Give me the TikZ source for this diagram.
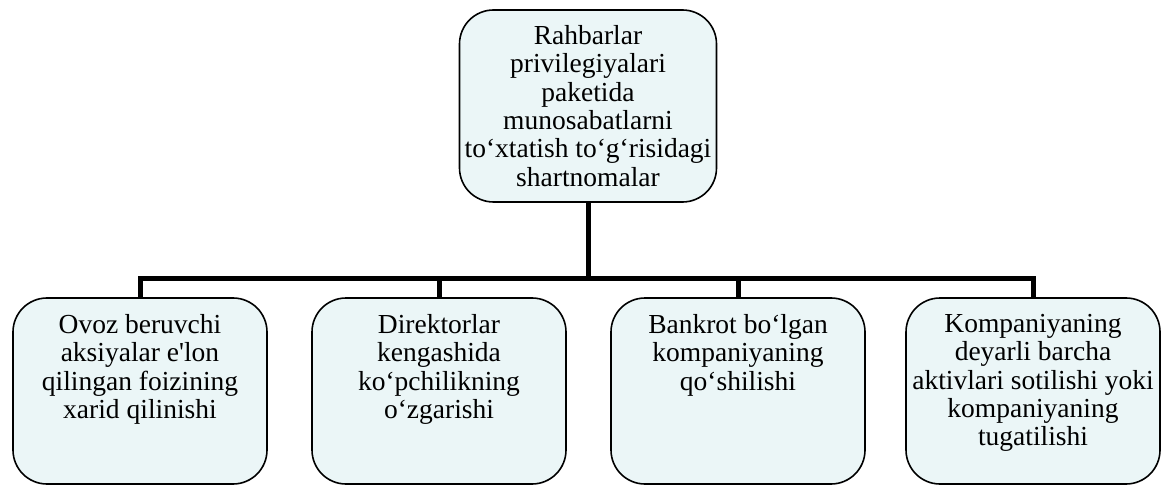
\documentclass[tikz,border=0pt]{standalone}
\usepackage{fontspec}
\setmainfont{Liberation Serif}[Ligatures=TeXOff]
\usetikzlibrary{positioning}
\definecolor{cfill}{HTML}{EBF6F7}
\definecolor{cink}{HTML}{000000}

\begin{document}
\begin{tikzpicture}[
  x=1pt, y=-1pt,
  font=\fontsize{27.5}{28.3}\selectfont,
  box/.style={draw=cink, fill=cfill, line width=1.6pt, rounded corners=34pt,
              minimum width=254pt, minimum height=186pt, inner sep=0pt},
  txt/.style={text=cink, align=center, inner sep=0pt},
  link/.style={draw=cink, line width=5pt}
]
\useasboundingbox (0,0) rectangle (1161,486);

% top
\node[box, minimum width=257pt, minimum height=192pt] (top) at (588,106) {};
\node[txt] (ttop) at (top.center) {Rahbarlar\\privilegiyalari\\paketida\\munosabatlarni\\to‘xtatish to‘g‘risidagi\\shartnomalar};

% bottom row
\node[box] (b1) at (140,391) {};
\node[box] (b2) at (439,391) {};
\node[box] (b3) at (738,391) {};
\node[box] (b4) at (1033,391) {};

\node[txt, below=17pt of b1.north] (t1) {Ovoz beruvchi\\aksiyalar e'lon\\qilingan foizining\\xarid qilinishi};
\node[txt, below=17pt of b2.north] (t2) {Direktorlar\\kengashida\\ko‘pchilikning\\o‘zgarishi};
\node[txt, below=17pt of b3.north] (t3) {Bankrot bo‘lgan\\kompaniyaning\\qo‘shilishi};
\node[txt, below=17pt of b4.north] (t4) {Kompaniyaning\\deyarli barcha\\aktivlari sotilishi yoki\\kompaniyaning\\tugatilishi};

% connectors
\coordinate (bus) at (588,278);
\draw[link] (top.south) -- (bus);
\draw[link] (b1.north) |- (bus);
\draw[link] (b4.north) |- (bus);
\draw[link] (b2.north) -- (b2.north |- bus);
\draw[link] (b3.north) -- (b3.north |- bus);
\end{tikzpicture}
\end{document}
